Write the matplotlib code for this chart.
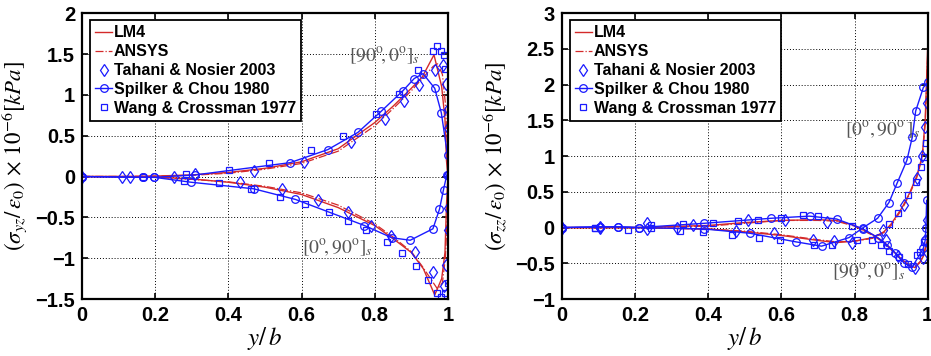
import matplotlib
matplotlib.use("Agg")
import matplotlib.pyplot as plt
from matplotlib.ticker import FuncFormatter

plt.rcParams['font.family'] = ['Liberation Sans', 'DejaVu Sans']
plt.rcParams['mathtext.fontset'] = 'stix'

RED = '#d42a2a'
BLUE = '#1a1aff'

# ---- sigma_yz (left panel) ----
yz_lm4_x_up = [0, 0.1, 0.2, 0.3, 0.4, 0.5, 0.6, 0.7, 0.8, 0.85, 0.9, 0.93, 0.962, 0.983, 0.992, 0.996, 1.0]
yz_lm4_up = [0, 0, 0.005, 0.02, 0.05, 0.1, 0.18, 0.34, 0.66, 0.86, 1.08, 1.22, 1.49, 1.1, 0.7, 0.2, 0.0]
yz_lm4_x_lo = [0, 0.1, 0.2, 0.3, 0.4, 0.5, 0.6, 0.7, 0.8, 0.85, 0.9, 0.933, 0.964, 0.983, 0.992, 0.996, 1.0]
yz_lm4_lo = [0, 0, -0.005, -0.03, -0.07, -0.13, -0.22, -0.38, -0.6, -0.76, -0.93, -1.13, -1.45, -1.25, -0.93, -0.36, 0.0]

yz_ans_x = [0, 0.1, 0.2, 0.3, 0.4, 0.5, 0.6, 0.7, 0.8, 0.85, 0.9, 0.93, 0.96, 0.972, 0.985, 0.993, 0.998, 1.0]
yz_ans_up = [0, 0, 0.005, 0.015, 0.04, 0.09, 0.16, 0.31, 0.62, 0.83, 1.05, 1.2, 1.35, 1.38, 1.25, 0.9, 0.4, 0.0]
yz_ans_lo = [0, 0, -0.01, -0.035, -0.065, -0.12, -0.2, -0.35, -0.58, -0.74, -0.92, -1.1, -1.3, -1.38, -1.3, -1.0, -0.5, 0.0]

yz_tah_x_up = [0, 0.109, 0.132, 0.252, 0.31, 0.471, 0.608, 0.736, 0.827, 0.879, 0.922, 0.964, 0.986, 0.995, 1.0, 1.0]
yz_tah_up = [0, 0, 0, -0.01, 0.03, 0.07, 0.18, 0.42, 0.71, 0.92, 1.12, 1.31, 1.37, 1.13, 0.83, 0.60]
yz_tah_x_lo = [0.433, 0.546, 0.645, 0.726, 0.79, 0.844, 0.909, 0.959, 0.988, 0.995, 1.0, 1.0, 1.0]
yz_tah_lo = [-0.07, -0.15, -0.29, -0.44, -0.6, -0.73, -0.93, -1.17, -1.34, -1.08, -0.66, -0.38, 0.02]

yz_spi_x_up = [0, 0.168, 0.198, 0.31, 0.569, 0.672, 0.754, 0.818, 0.877, 0.908, 0.932, 0.964, 0.982, 0.999, 1.0]
yz_spi_up = [0, -0.01, -0.01, 0.02, 0.17, 0.33, 0.54, 0.80, 1.05, 1.20, 1.26, 1.08, 0.78, 0.26, 0.02]
yz_spi_x_lo = [0, 0.168, 0.198, 0.298, 0.469, 0.583, 0.772, 0.847, 0.897, 0.959, 0.977, 0.988, 0.997]
yz_spi_lo = [0, -0.01, -0.01, -0.07, -0.15, -0.28, -0.60, -0.75, -0.78, -0.64, -0.40, -0.16, 0.02]

yz_wan_x_up = [0, 0.168, 0.284, 0.403, 0.51, 0.627, 0.712, 0.804, 0.865, 0.918, 0.959, 0.97, 0.982, 0.988, 0.991]
yz_wan_up = [0, 0, 0.03, 0.08, 0.16, 0.32, 0.50, 0.76, 1.01, 1.30, 1.54, 1.60, 1.54, 1.49, 1.32]
yz_wan_x_lo = [0.28, 0.375, 0.462, 0.54, 0.61, 0.674, 0.727, 0.777, 0.833, 0.874, 0.913, 0.945, 0.97, 0.982, 0.991, 0.999]
yz_wan_lo = [-0.05, -0.08, -0.15, -0.25, -0.34, -0.44, -0.54, -0.65, -0.80, -0.94, -1.10, -1.27, -1.42, -1.47, -1.42, -1.30]

# ---- sigma_zz (right panel) ----
zz_lm4_x_a = [0, 0.2, 0.4, 0.5, 0.6, 0.7, 0.75, 0.8, 0.85, 0.88, 0.9, 0.93, 0.95, 0.97, 0.985, 0.993, 0.997, 1.0]
zz_lm4_a = [0, 0, -0.02, -0.06, -0.11, -0.18, -0.21, -0.19, -0.14, -0.06, 0.05, 0.28, 0.48, 0.72, 1.0, 1.5, 2.1, 2.55]
zz_lm4_x_b = [0, 0.2, 0.4, 0.5, 0.6, 0.7, 0.75, 0.8, 0.85, 0.88, 0.9, 0.93, 0.95, 0.965, 0.98, 0.99, 1.0]
zz_lm4_b = [0, 0, 0.03, 0.07, 0.1, 0.11, 0.1, 0.03, -0.1, -0.2, -0.3, -0.45, -0.53, -0.56, -0.48, -0.38, -0.15]

zz_ans_a = [0, 0, -0.02, -0.05, -0.1, -0.17, -0.2, -0.19, -0.15, -0.07, 0.03, 0.26, 0.46, 0.7, 0.98, 1.45, 2.0, 2.45]
zz_ans_b = [0, 0, 0.02, 0.06, 0.1, 0.1, 0.09, 0.02, -0.11, -0.21, -0.31, -0.46, -0.54, -0.55, -0.47, -0.36, -0.12]

zz_tah_x_a = [0, 0.105, 0.232, 0.314, 0.475, 0.581, 0.686, 0.744, 0.792, 0.879, 0.934, 0.97, 0.985, 0.993, 0.997]
zz_tah_a = [0, -0.01, -0.02, -0.01, -0.05, -0.08, -0.17, -0.19, -0.22, -0.04, 0.31, 0.69, 1.0, 1.41, 1.74]
zz_tah_x_b = [0, 0.105, 0.232, 0.36, 0.51, 0.61, 0.726, 0.885, 0.918, 0.964, 0.987, 0.992, 0.997]
zz_tah_b = [0, 0.01, 0.06, 0.03, 0.1, 0.1, 0.08, -0.17, -0.4, -0.57, -0.43, -0.18, 0.1]

zz_spi_x_a = [0, 0.105, 0.155, 0.21, 0.39, 0.515, 0.64, 0.71, 0.785, 0.824, 0.863, 0.894, 0.917, 0.943, 0.958, 0.967, 0.988, 1.0]
zz_spi_a = [0, 0.01, 0.01, 0, -0.02, -0.08, -0.2, -0.26, -0.14, 0.0, 0.13, 0.35, 0.63, 0.94, 1.27, 1.63, 1.96, 2.03]
zz_spi_x_b = [0, 0.105, 0.155, 0.21, 0.39, 0.572, 0.677, 0.751, 0.824, 0.863, 0.89, 0.91, 0.936, 0.958, 0.988, 0.993, 0.995, 0.997]
zz_spi_b = [0, 0.01, 0.01, 0, 0.06, 0.13, 0.16, 0.12, -0.02, -0.14, -0.25, -0.35, -0.5, -0.55, -0.29, -0.18, -0.01, 0.38]

zz_wan_x_a = [0, 0.091, 0.182, 0.244, 0.323, 0.387, 0.464, 0.539, 0.597, 0.689, 0.738, 0.806, 0.894, 0.918, 0.947, 0.968, 0.982, 0.99, 0.995]
zz_wan_a = [0, 0, -0.03, 0, -0.05, -0.06, -0.1, -0.14, -0.18, -0.25, -0.25, -0.18, 0.05, 0.2, 0.45, 0.64, 0.85, 0.99, 1.19]
zz_wan_x_b = [0, 0.091, 0.244, 0.332, 0.414, 0.481, 0.535, 0.6, 0.658, 0.699, 0.792, 0.849, 0.873, 0.894, 0.921, 0.947, 0.972, 0.98, 0.99]
zz_wan_b = [0, 0, 0.03, 0.05, 0.07, 0.09, 0.1, 0.14, 0.17, 0.16, 0.02, -0.17, -0.25, -0.33, -0.41, -0.51, -0.39, -0.34, -0.2]

MS = 5.5


def draw_panel(ax, lm4, ans, tah, spi, wan):
    for i, (x, y) in enumerate(lm4):
        ax.plot(x, y, '-', color=RED, lw=1.0, label='LM4' if i == 0 else None)
    for i, (x, y) in enumerate(ans):
        ax.plot(x, y, '-.', color=RED, lw=0.9, label='ANSYS' if i == 0 else None)
    for i, (x, y) in enumerate(tah):
        ax.plot(x, y, 'd', color=BLUE, mfc='none', ms=MS + 0.5, mew=0.9,
                label='Tahani & Nosier 2003' if i == 0 else None)
    for i, (x, y) in enumerate(spi):
        ax.plot(x, y, '-o', color=BLUE, mfc='none', ms=MS, mew=0.9, lw=1.0,
                label='Spilker & Chou 1980' if i == 0 else None)
    for i, (x, y) in enumerate(wan):
        ax.plot(x, y, 's', color=BLUE, mfc='none', ms=MS - 0.5, mew=0.9,
                label='Wang & Crossman 1977' if i == 0 else None)

    ax.set_xlim(0, 1)
    ax.set_xticks([0, 0.2, 0.4, 0.6, 0.8, 1.0])
    ax.xaxis.set_major_formatter(FuncFormatter(lambda v, p: '%g' % v))
    ax.yaxis.set_major_formatter(FuncFormatter(lambda v, p: ('%g' % v).replace('-', '\u2212')))
    ax.grid(True, color='black', linestyle=(0, (1, 2)), lw=0.7)
    ax.tick_params(direction='in', top=True, right=True, labelsize=14.5, length=4, width=1.2, pad=5)
    for lbl in ax.get_xticklabels() + ax.get_yticklabels():
        lbl.set_fontweight('bold')
    for s in ax.spines.values():
        s.set_linewidth(1.6)
    ax.set_xlabel(r'$y/\,b$', fontsize=18, labelpad=0)
    leg = ax.legend(loc='upper left', bbox_to_anchor=(0.022, 0.975),
                    prop={'size': 11.5, 'weight': 'bold'},
                    handlelength=1.1, handletextpad=0.1, borderpad=0.3, labelspacing=0.25,
                    borderaxespad=0, fancybox=False, framealpha=1, edgecolor='black')
    leg.get_frame().set_linewidth(1.3)


fig = plt.figure(figsize=(9.31, 3.56), dpi=100)
ax1 = fig.add_axes([0.0881, 0.160, 0.393, 0.803])
ax2 = fig.add_axes([0.6033, 0.160, 0.3932, 0.803])

draw_panel(ax1,
           [(yz_lm4_x_up, yz_lm4_up), (yz_lm4_x_lo, yz_lm4_lo)],
           [(yz_ans_x, yz_ans_up), (yz_ans_x, yz_ans_lo)],
           [(yz_tah_x_up, yz_tah_up), (yz_tah_x_lo, yz_tah_lo)],
           [(yz_spi_x_up, yz_spi_up), (yz_spi_x_lo, yz_spi_lo)],
           [(yz_wan_x_up, yz_wan_up), (yz_wan_x_lo, yz_wan_lo)])
ax1.set_ylim(-1.5, 2)
ax1.set_yticks([-1.5, -1, -0.5, 0, 0.5, 1, 1.5, 2])
ax1.set_ylabel(r'$(\sigma_{yz}/\,\varepsilon_0)\,\times\,10^{-6}[kPa]$', fontsize=16.5, labelpad=4)
ax1.text(0.729, 1.47, r'$[90^{\rm o}\!, 0^{\rm o}]_s$', fontsize=14, color='#555555', va='center')
ax1.text(0.601, -0.88, r'$[0^{\rm o}\!,90^{\rm o}]_s$', fontsize=14, color='#555555', va='center')

draw_panel(ax2,
           [(zz_lm4_x_a, zz_lm4_a), (zz_lm4_x_b, zz_lm4_b)],
           [(zz_lm4_x_a, zz_ans_a), (zz_lm4_x_b, zz_ans_b)],
           [(zz_tah_x_a, zz_tah_a), (zz_tah_x_b, zz_tah_b)],
           [(zz_spi_x_a, zz_spi_a), (zz_spi_x_b, zz_spi_b)],
           [(zz_wan_x_a, zz_wan_a), (zz_wan_x_b, zz_wan_b)])
ax2.set_ylim(-1, 3)
ax2.set_yticks([-1, -0.5, 0, 0.5, 1, 1.5, 2, 2.5, 3])
ax2.set_ylabel(r'$(\sigma_{zz}/\,\varepsilon_0)\,\times\,10^{-6}[kPa]$', fontsize=16.5, labelpad=4)
ax2.text(0.774, 1.36, r'$[0^{\rm o}, 90^{\rm o}\,]_s$', fontsize=14, color='#555555', va='center')
ax2.text(0.738, -0.62, r'$[90^{\rm o}, 0^{\rm o}]_s$', fontsize=14, color='#555555', va='center')

fig.savefig('out.png', dpi=100)
